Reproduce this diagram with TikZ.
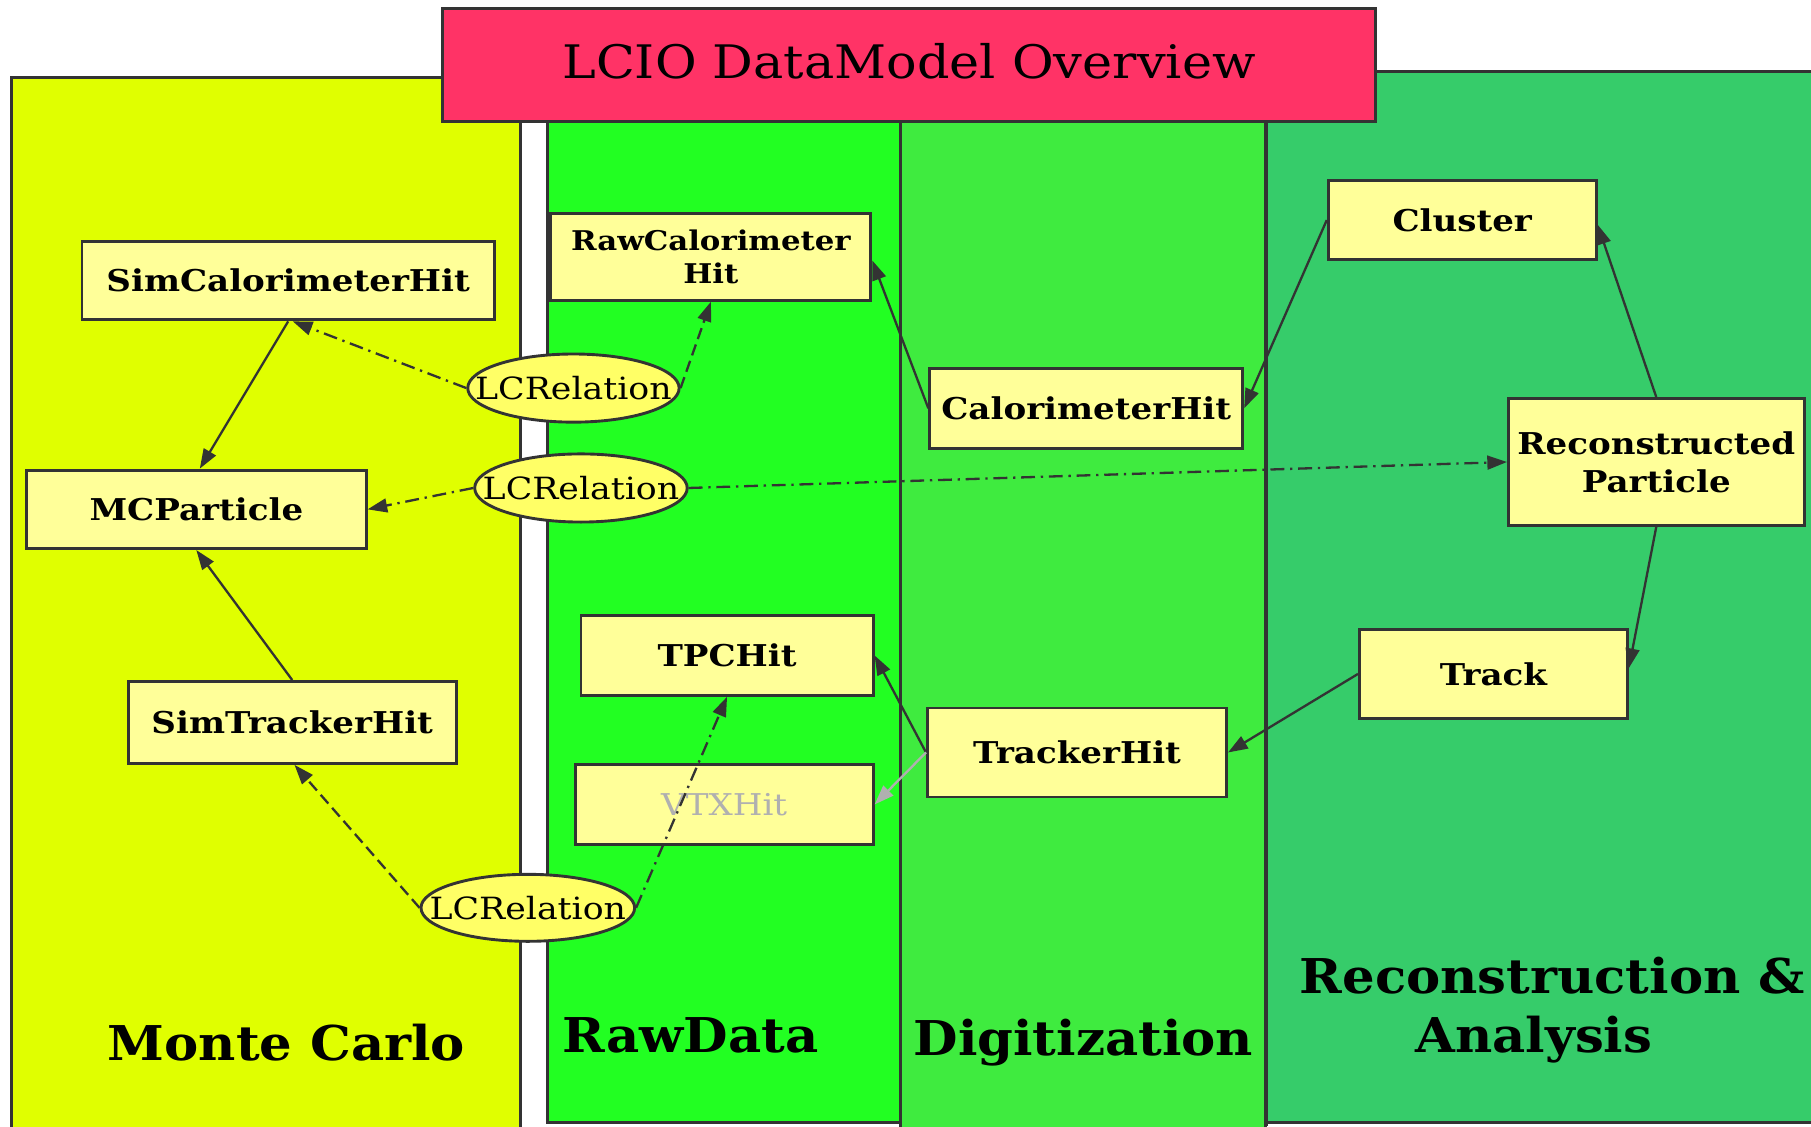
\documentclass[tikz,border=0pt]{standalone}
\usepackage{fontspec}
\setmainfont{DejaVu Serif}
\newfontfamily\titlefnt[FakeStretch=1.1]{DejaVu Serif}
\newfontfamily\panelfnt[FakeStretch=1.07]{DejaVu Serif}
\newfontfamily\nodefnt[FakeStretch=1.135]{DejaVu Serif}
\usetikzlibrary{arrows.meta,shapes.geometric,calc}
\definecolor{lineC}{HTML}{333333}
\definecolor{titleC}{HTML}{FF3366}
\definecolor{mcC}{HTML}{E0FF00}
\definecolor{rawC}{HTML}{22FF22}
\definecolor{digiC}{HTML}{3FEB3F}
\definecolor{recoC}{HTML}{36CC6A}
\definecolor{nodeC}{HTML}{FFFF99}
\definecolor{ellC}{HTML}{FFFF66}
\definecolor{grayC}{HTML}{B0B0B0}
\begin{document}
\begin{tikzpicture}[x=1pt,y=-1pt,
  panel/.style={draw=lineC,line width=2.5pt},
  box/.style={draw=lineC,line width=2.5pt,fill=nodeC,inner sep=0pt,align=center,
    font=\nodefnt\fontsize{26}{31}\selectfont\bfseries},
  rel/.style={ellipse,draw=lineC,line width=2.5pt,fill=ellC,inner sep=0pt},
  reltext/.style={font=\nodefnt\fontsize{26.5}{31}\selectfont,inner sep=0pt},
  plabel/.style={font=\panelfnt\fontsize{41.5}{50}\selectfont\bfseries,anchor=base},
  conn/.style={draw=lineC,line width=2pt,-{Triangle[length=17pt,width=12pt]}},
  dashdot/.style={dash pattern=on 12pt off 5pt on 2pt off 5pt},
  dashline/.style={dash pattern=on 10pt off 5pt},
]
\useasboundingbox (0,0) rectangle (1568,975);
\fill[white] (0,0) rectangle (1568,975);
% panels
\filldraw[panel,fill=mcC] (10,67) rectangle (451,990);
\filldraw[panel,fill=rawC] (474,100) rectangle (780,972);
\filldraw[panel,fill=digiC] (780,100) rectangle (1096,990);
\filldraw[panel,fill=recoC] (1096,62) rectangle (1600,972);
\draw[lineC,line width=4pt] (1096,100) -- (1096,975);
% title
\node[draw=lineC,line width=2.5pt,fill=titleC,minimum width=808pt,minimum height=98pt,inner sep=0pt] (title) at (787,56) {};
\node[font=\titlefnt\fontsize{40}{46}\selectfont] (titletext) at (787,53) {LCIO DataModel Overview};
% panel labels
\node[plabel] (lmc) at (248,918) {Monte Carlo};
\node[plabel] (lraw) at (598,911) {RawData};
\node[plabel] (ldigi) at (938,914) {Digitization};
\node[plabel] (lreco) at (1344,860) {Reconstruction \&};
\node[plabel] (lana) at (1328,911) {Analysis};
% nodes
\node[box,minimum width=357pt,minimum height=68pt] (simcalo) at (249.5,243) {SimCalorimeterHit};
\node[box,minimum width=277pt,minimum height=75pt,font=\nodefnt\fontsize{23.5}{29}\selectfont\bfseries] (rawcalo) at (615.5,222.5) {RawCalorimeter\\Hit};
\node[box,minimum width=294pt,minimum height=68pt] (mcp) at (170,441) {MCParticle};
\node[box,minimum width=284pt,minimum height=71pt] (simtrk) at (253,625.5) {SimTrackerHit};
\node[box,minimum width=253pt,minimum height=69pt] (tpc) at (629.5,567.5) {TPCHit};
\node[box,minimum width=258pt,minimum height=69pt,text=grayC,font=\nodefnt\fontsize{26}{31}\selectfont] (vtx) at (627,696.5) {VTXHit};
\node[box,minimum width=271pt,minimum height=69pt] (calohit) at (940.5,353.5) {CalorimeterHit};
\node[box,minimum width=232pt,minimum height=69pt] (cluster) at (1266,190.5) {Cluster};
\node[box,minimum width=256pt,minimum height=110pt] (reco) at (1434,400) {Reconstructed\\[2pt]Particle};
\node[box,minimum width=232pt,minimum height=77pt] (track) at (1293,583.5) {Track};
\node[box,minimum width=259pt,minimum height=77pt] (trkhit) at (932.5,651.5) {TrackerHit};
\node[rel,minimum width=183pt,minimum height=59pt] (lcr1) at (496.5,336) {};
\node[reltext] (lcr1t) at (lcr1.center) {LCRelation};
\node[rel,minimum width=184pt,minimum height=59pt] (lcr2) at (503,422.5) {};
\node[reltext] (lcr2t) at (lcr2.center) {LCRelation};
\node[rel,minimum width=185pt,minimum height=58pt] (lcr3) at (457,786) {};
\node[reltext] (lcr3t) at (lcr3.center) {LCRelation};
% connectors
\draw[conn] (simcalo.south) -- ($(mcp.north)+(3,0)$);
\draw[conn] (simtrk.north) -- (mcp.south);
\draw[conn,dashdot] (lcr1.west) -- ($(simcalo.south)+(4,0)$);
\draw[conn,dashline] (lcr1.east) -- (rawcalo.south);
\draw[conn,dashdot] (lcr2.west) -- (mcp.east);
\draw[conn,dashdot] (lcr2.east) -- (reco.west);
\draw[conn,dashline] (lcr3.west) -- ($(simtrk.south)+(2,0)$);
\draw[conn,dashdot] (lcr3.east) -- (tpc.south);
\draw[conn] (calohit.west) -- ($(rawcalo.east)+(0,3)$);
\draw[conn] (cluster.west) -- (calohit.east);
\draw[conn] (reco.north) -- ($(cluster.east)+(0,4)$);
\draw[conn] (reco.south) -- ($(track.east)+(0,-5)$);
\draw[conn] (track.west) -- (trkhit.east);
\draw[conn] (trkhit.west) -- (tpc.east);
\draw[conn,draw=grayC] (trkhit.west) -- (vtx.east);
\end{tikzpicture}
\end{document}
